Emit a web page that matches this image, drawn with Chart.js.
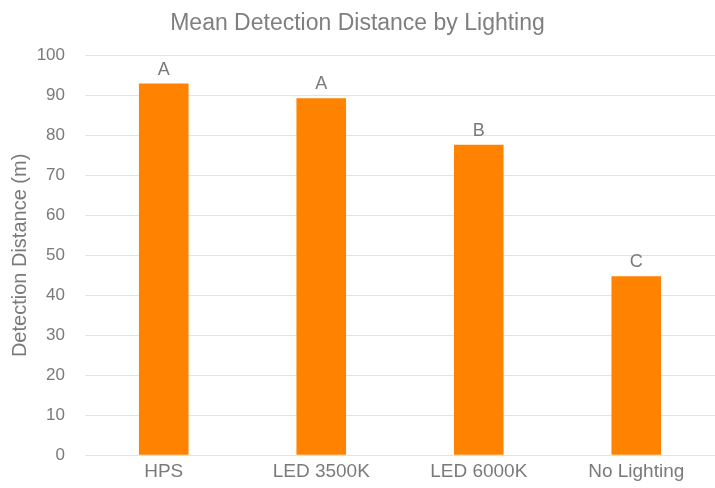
<!DOCTYPE html>
<html>
<head>
<meta charset="utf-8">
<script src="https://cdn.jsdelivr.net/npm/chart.js@4.4.1/dist/chart.umd.min.js"></script>
<style>
  html, body { margin: 0; padding: 0; background: #ffffff; }
  #wrap { width: 715px; height: 488px; }
</style>
</head>
<body>
<div id="wrap"><canvas id="c" width="715" height="488"></canvas></div>
<script>
// Lighting conditions and mean detection distance (m)
const categories = ["HPS", "LED 3500K", "LED 6000K", "No Lighting"];
const meanDistance = [93, 89.3, 77.7, 44.8];
// Significance group letters shown above each bar
const groupLetters = ["A", "A", "B", "C"];
const yTicks = [0, 10, 20, 30, 40, 50, 60, 70, 80, 90, 100];

const FONT = "'Liberation Sans', Arial, sans-serif";
const TEXT = "#7a7a7a";

const letterPlugin = {
  id: "groupLetters",
  afterDatasetsDraw(chart) {
    const ctx = chart.ctx;
    const meta = chart.getDatasetMeta(0);
    ctx.save();
    ctx.font = "18px " + FONT;
    ctx.fillStyle = TEXT;
    ctx.textAlign = "center";
    ctx.textBaseline = "bottom";
    meta.data.forEach((bar, i) => {
      ctx.fillText(groupLetters[i], bar.x, bar.y - 5);
    });
    ctx.restore();
  }
};

new Chart(document.getElementById("c"), {
  type: "bar",
  data: {
    labels: categories,
    datasets: [{
      data: meanDistance,
      backgroundColor: "#ff8200",
      borderWidth: 0,
      barPercentage: 0.63,
      categoryPercentage: 0.5
    }]
  },
  options: {
    responsive: false,
    animation: false,
    layout: { padding: { top: 0, right: 0, bottom: 0, left: 0 } },
    plugins: {
      legend: { display: false },
      tooltip: { enabled: false },
      title: {
        display: true,
        text: "Mean Detection Distance by Lighting",
        color: "#7f7f7f",
        font: { family: FONT, size: 23, weight: "normal" },
        padding: { top: 10, bottom: 18 }
      }
    },
    scales: {
      x: {
        grid: { display: false, drawTicks: false },
        border: { display: false },
        ticks: {
          color: TEXT,
          font: { family: FONT, size: 19 },
          padding: 5,
          maxRotation: 0
        }
      },
      y: {
        min: 0,
        max: 100,
        afterBuildTicks(axis) {
          axis.ticks = yTicks.map(v => ({ value: v }));
        },
        afterFit(axis) { axis.width = 85; },
        grid: { color: "#e3e3e3", lineWidth: 1, drawTicks: false },
        border: { display: false },
        ticks: {
          color: TEXT,
          font: { family: FONT, size: 17 },
          padding: 20
        },
        title: {
          display: true,
          text: "Detection Distance (m)",
          color: TEXT,
          font: { family: FONT, size: 20 },
          padding: { top: 8, bottom: 0 }
        }
      }
    }
  },
  plugins: [letterPlugin]
});
</script>
</body>
</html>
